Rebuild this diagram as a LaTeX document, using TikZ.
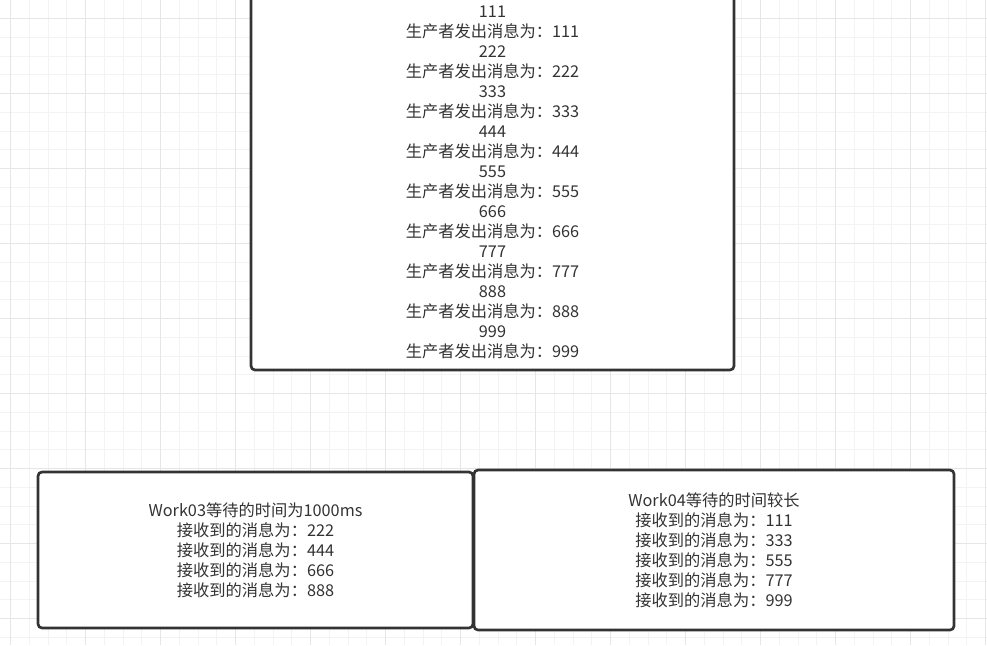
\documentclass[tikz,border=0pt]{standalone}
\usepackage{fontspec}
\newfontfamily\cjk{Noto Sans CJK SC}
\definecolor{boxline}{HTML}{333333}
\definecolor{minorgrid}{HTML}{F3F3F3}
\definecolor{majorgrid}{HTML}{E6E6E6}
\begin{document}
\begin{tikzpicture}[
    x=0.75pt, y=-0.75pt,
    minorline/.style={minorgrid, line width=0.75pt},
    majorline/.style={majorgrid, line width=0.75pt},
    msgbox/.style={draw=boxline, line width=2pt, rounded corners=3pt, fill=white,
        align=center, text=boxline, font=\cjk\fontsize{12.2}{15}\selectfont, inner sep=0pt}
]
\useasboundingbox[fill=white] (0,0) rectangle (987,645);

% background grid
\foreach \i in {0,...,53} {
    \draw[minorline] ({10.7+\i*18.75},0) -- ({10.7+\i*18.75},645);
}
\foreach \i in {0,...,35} {
    \draw[minorline] (0,{-0.05+\i*18.75}) -- (987,{-0.05+\i*18.75});
}
\foreach \i in {0,...,13} {
    \draw[majorline] ({10.7+\i*75},0) -- ({10.7+\i*75},645);
}
\foreach \i in {0,...,8} {
    \draw[majorline] (0,{18.7+\i*75}) -- (987,{18.7+\i*75});
}

\node[msgbox, minimum width=362.25pt, minimum height=282pt] (producer) at (492.5,182) {
    111\\生产者发出消息为：111\\
    222\\生产者发出消息为：222\\
    333\\生产者发出消息为：333\\
    444\\生产者发出消息为：444\\
    555\\生产者发出消息为：555\\
    666\\生产者发出消息为：666\\
    777\\生产者发出消息为：777\\
    888\\生产者发出消息为：888\\
    999\\生产者发出消息为：999};

\node[msgbox, minimum width=326.25pt, minimum height=117pt] (work03) at (255.5,550) {
    Work03等待的时间为1000ms\\
    接收到的消息为：222\\
    接收到的消息为：444\\
    接收到的消息为：666\\
    接收到的消息为：888};

\node[msgbox, minimum width=360pt, minimum height=120pt] (work04) at (714,550) {
    Work04等待的时间较长\\
    接收到的消息为：111\\
    接收到的消息为：333\\
    接收到的消息为：555\\
    接收到的消息为：777\\
    接收到的消息为：999};

\end{tikzpicture}
\end{document}
